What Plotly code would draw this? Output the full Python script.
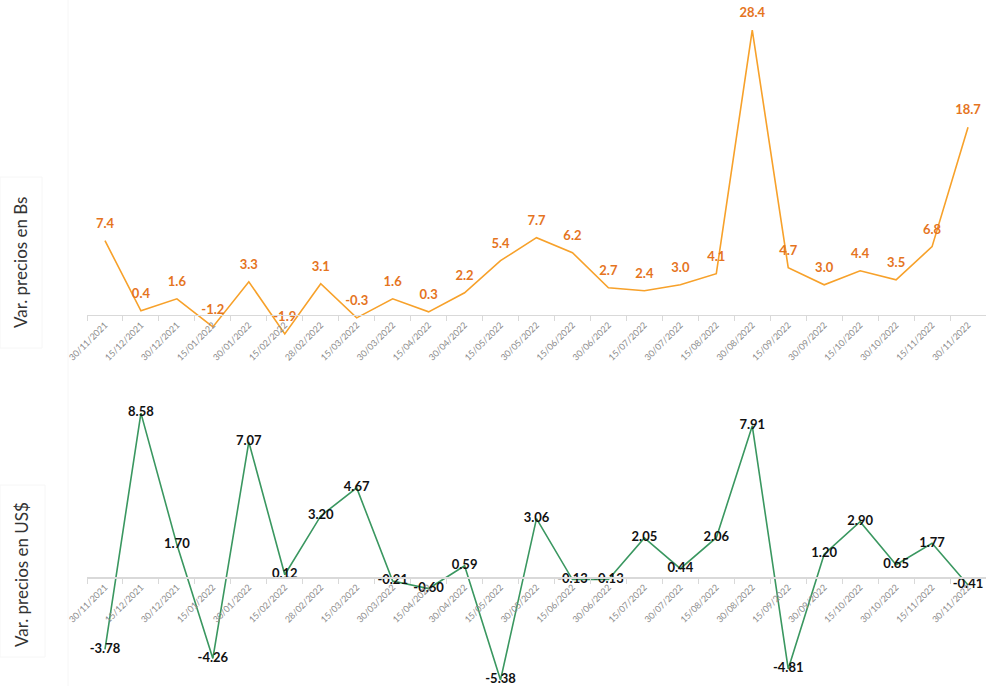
import plotly.graph_objects as go

# ---------------- data ----------------
fechas = [
    "30/11/2021", "15/12/2021", "30/12/2021", "15/01/2022", "30/01/2022",
    "15/02/2022", "28/02/2022", "15/03/2022", "30/03/2022", "15/04/2022",
    "30/04/2022", "15/05/2022", "30/05/2022", "15/06/2022", "30/06/2022",
    "15/07/2022", "30/07/2022", "15/08/2022", "30/08/2022", "15/09/2022",
    "30/09/2022", "15/10/2022", "30/10/2022", "15/11/2022", "30/11/2022",
]
var_bs = [7.4, 0.4, 1.6, -1.2, 3.3, -1.9, 3.1, -0.3, 1.6, 0.3,
          2.2, 5.4, 7.7, 6.2, 2.7, 2.4, 3.0, 4.1, 28.4, 4.7,
          3.0, 4.4, 3.5, 6.8, 18.7]
var_usd = [-3.78, 8.58, 1.70, -4.26, 7.07, 0.12, 3.20, 4.67, -0.21, -0.60,
           0.59, -5.38, 3.06, -0.13, -0.13, 2.05, 0.44, 2.06, 7.91, -4.81,
           1.20, 2.90, 0.65, 1.77, -0.41]
titulo_bs = "Var. precios en Bs"
titulo_usd = "Var. precios en US$"

# ---------------- layout helpers ----------------
W, H = 986, 686
FONT = "Lato, 'Open Sans', sans-serif"

def px_x(p):
    return p / W

def px_y(p):
    return 1 - p / H

y1_range = [-5, 30]
y2_range = [-5.7, 10]
y1_dom = [px_y(365), px_y(14)]
y2_dom = [0.0, px_y(386)]

def zero_pos(rng, dom):
    return dom[0] + (0 - rng[0]) / (rng[1] - rng[0]) * (dom[1] - dom[0])

fig = go.Figure()

fig.add_trace(go.Scatter(
    x=fechas, y=var_bs, mode="lines+markers+text",
    line=dict(color="#F7A12A", width=1.6),
    marker=dict(size=14, color="rgba(0,0,0,0)"),
    texttemplate="%{y:.1f}", textposition="top center",
    textfont=dict(family=FONT, size=13, color="#E5741E", weight="bold"),
    cliponaxis=False, xaxis="x", yaxis="y", showlegend=False, hoverinfo="skip",
))
fig.add_trace(go.Scatter(
    x=fechas, y=var_usd, mode="lines+text",
    line=dict(color="#3A9760", width=1.6),
    texttemplate="%{y:.2f}", textposition="middle center",
    textfont=dict(family=FONT, size=13, color="#111111", weight="bold"),
    cliponaxis=False, xaxis="x2", yaxis="y2", showlegend=False, hoverinfo="skip",
))

xcommon = dict(
    type="category", range=[-0.5, 24.5], domain=[px_x(87), 1.0],
    showgrid=False, zeroline=False, showline=True, linecolor="#D9D9D9", linewidth=1.5,
    ticks="outside", tickson="boundaries", ticklen=5, tickcolor="#D9D9D9", tickwidth=1,
    tickangle=-45, tickfont=dict(family=FONT, size=9, color="#8C8C8C"),
    anchor="free", fixedrange=True, automargin=False,
)
fig.update_layout(
    template="none",
    width=W, height=H, autosize=False,
    margin=dict(l=0, r=0, t=0, b=0, pad=0),
    paper_bgcolor="white", plot_bgcolor="rgba(0,0,0,0)",
    xaxis=dict(**xcommon, position=zero_pos(y1_range, y1_dom)),
    xaxis2=dict(**xcommon, position=zero_pos(y2_range, y2_dom)),
    yaxis=dict(range=y1_range, domain=y1_dom, visible=False, anchor="x", automargin=False),
    yaxis2=dict(range=y2_range, domain=y2_dom, visible=False, anchor="x2", automargin=False),
    font=dict(family=FONT),
)

# y-axis titles
fig.add_annotation(x=px_x(20), y=px_y(263), xref="paper", yref="paper",
                   text=titulo_bs, textangle=-90, showarrow=False,
                   font=dict(family=FONT, size=17, color="#333333"),
                   xanchor="center", yanchor="middle")
fig.add_annotation(x=px_x(21), y=px_y(575), xref="paper", yref="paper",
                   text=titulo_usd, textangle=-90, showarrow=False,
                   font=dict(family=FONT, size=17, color="#333333"),
                   xanchor="center", yanchor="middle")

# faint frames (title boxes and chart border)
fig.add_shape(type="rect", xref="paper", yref="paper",
              x0=px_x(0), x1=px_x(42), y0=px_y(348), y1=px_y(177),
              line=dict(color="#F6F6F6", width=1))
fig.add_shape(type="rect", xref="paper", yref="paper",
              x0=px_x(0), x1=px_x(45), y0=px_y(657), y1=px_y(485),
              line=dict(color="#F6F6F6", width=1))
fig.add_shape(type="line", xref="paper", yref="paper",
              x0=px_x(68), x1=px_x(68), y0=0, y1=1,
              line=dict(color="#F6F6F6", width=1))

fig.write_html(
    "out.html",
    config={"displayModeBar": False, "staticPlot": True},
    post_script="document.body.style.margin='0';document.body.style.overflow='hidden';",
)
